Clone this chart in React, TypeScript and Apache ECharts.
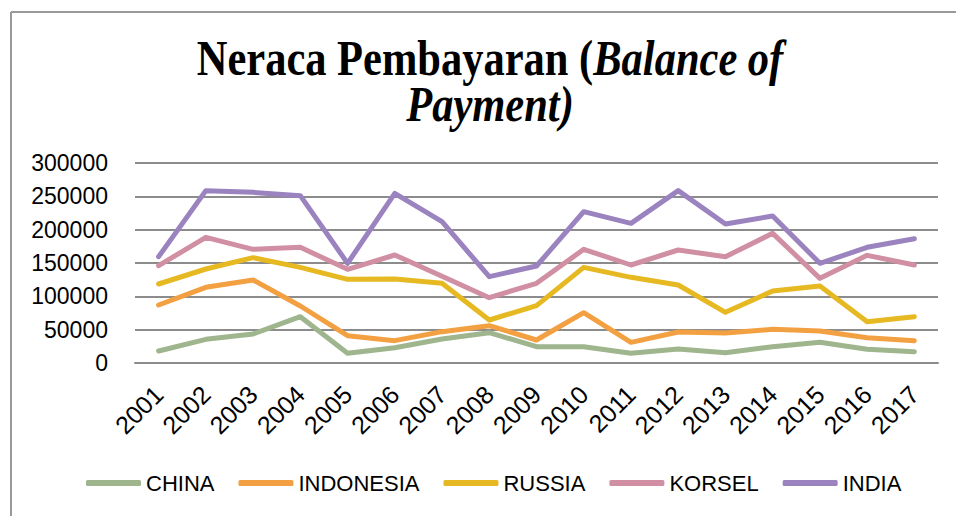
import React, { useEffect, useRef } from "react";
import * as echarts from "echarts";

const years = ["2001","2002","2003","2004","2005","2006","2007","2008","2009","2010","2011","2012","2013","2014","2015","2016","2017"];
const china = [18000, 35500, 43500, 69500, 14500, 23000, 36000, 45500, 24500, 24500, 14500, 21000, 15500, 24500, 31000, 20500, 17000];
const indonesia = [87000, 113500, 124500, 85500, 41000, 33500, 47000, 56000, 34500, 75500, 31000, 46500, 45000, 50500, 48000, 38000, 33500];
const russia = [118500, 141000, 158000, 143500, 125500, 126000, 119500, 64500, 86000, 143500, 128500, 117000, 76000, 108000, 115500, 62000, 69500];
const korsel = [146000, 188500, 170500, 173500, 140500, 162000, 130000, 98000, 119500, 170500, 147000, 169500, 159500, 194500, 127000, 161500, 147000];
const india = [159500, 258500, 256000, 251000, 149500, 254500, 212000, 129500, 145500, 227000, 209500, 258500, 208500, 220500, 149500, 173500, 186500];
const seriesNames = ["CHINA", "INDONESIA", "RUSSIA", "KORSEL", "INDIA"];
const seriesData = [china, indonesia, russia, korsel, india];
const colors = ["#9fb58d", "#f3a042", "#e6b922", "#d08fa2", "#9b83c0"];

export default function App() {
  const ref = useRef<HTMLDivElement>(null);
  useEffect(() => {
    document.body.style.margin = "0";
    const chart = echarts.init(ref.current!, null, { renderer: "svg" });
    const sans = "'Liberation Sans', Arial, sans-serif";
    const serif = "'Liberation Serif', 'Times New Roman', serif";
    chart.setOption({
      animation: false,
      backgroundColor: "#ffffff",
      graphic: [
        { type: "line", shape: { x1: 11, y1: 12, x2: 11, y2: 516 }, style: { stroke: "#999999", lineWidth: 2 } },
        { type: "line", shape: { x1: 11, y1: 12, x2: 956, y2: 12 }, style: { stroke: "#999999", lineWidth: 2 } },
        {
          type: "text",
          x: 490,
          y: 36,
          scaleY: 1.17,
          style: {
            text: "{n|Neraca Pembayaran (}{i|Balance of}\n{i|Payment)}",
            align: "center",
            verticalAlign: "top",
            rich: {
              n: { fontFamily: serif, fontWeight: "bold", fontSize: 42.5, lineHeight: 39, fill: "#000" },
              i: { fontFamily: serif, fontWeight: "bold", fontStyle: "italic", fontSize: 42.5, lineHeight: 39, fill: "#000" },
            },
          },
        },
      ],
      legend: {
        data: seriesNames,
        left: 81,
        top: 467,
        icon: "roundRect",
        itemWidth: 55,
        itemHeight: 6,
        itemGap: 24,
        textStyle: { fontFamily: sans, fontSize: 22, color: "#000" },
      },
      grid: { left: 135, right: 18, top: 163, bottom: 153 },
      xAxis: {
        type: "category",
        data: years,
        boundaryGap: true,
        axisLine: { lineStyle: { color: "#8c8c8c", width: 2 } },
        axisTick: { show: false },
        axisLabel: { rotate: 45, margin: 27, fontFamily: sans, fontSize: 25, color: "#000", interval: 0 },
      },
      yAxis: {
        type: "value",
        min: 0,
        max: 300000,
        interval: 50000,
        axisLine: { show: false },
        axisTick: { show: false },
        axisLabel: { margin: 27, fontFamily: sans, fontSize: 23, color: "#000", formatter: (v: number) => String(v) },
        splitLine: { lineStyle: { color: "#8c8c8c", width: 2 } },
      },
      series: seriesNames.map((name, i) => ({
        name,
        type: "line",
        data: seriesData[i],
        showSymbol: false,
        symbol: "none",
        color: colors[i],
        lineStyle: { width: 5, color: colors[i], cap: "round", join: "round" },
      })),
    });
    return () => chart.dispose();
  }, []);
  return <div ref={ref} style={{ width: 956, height: 516 }} />;
}
